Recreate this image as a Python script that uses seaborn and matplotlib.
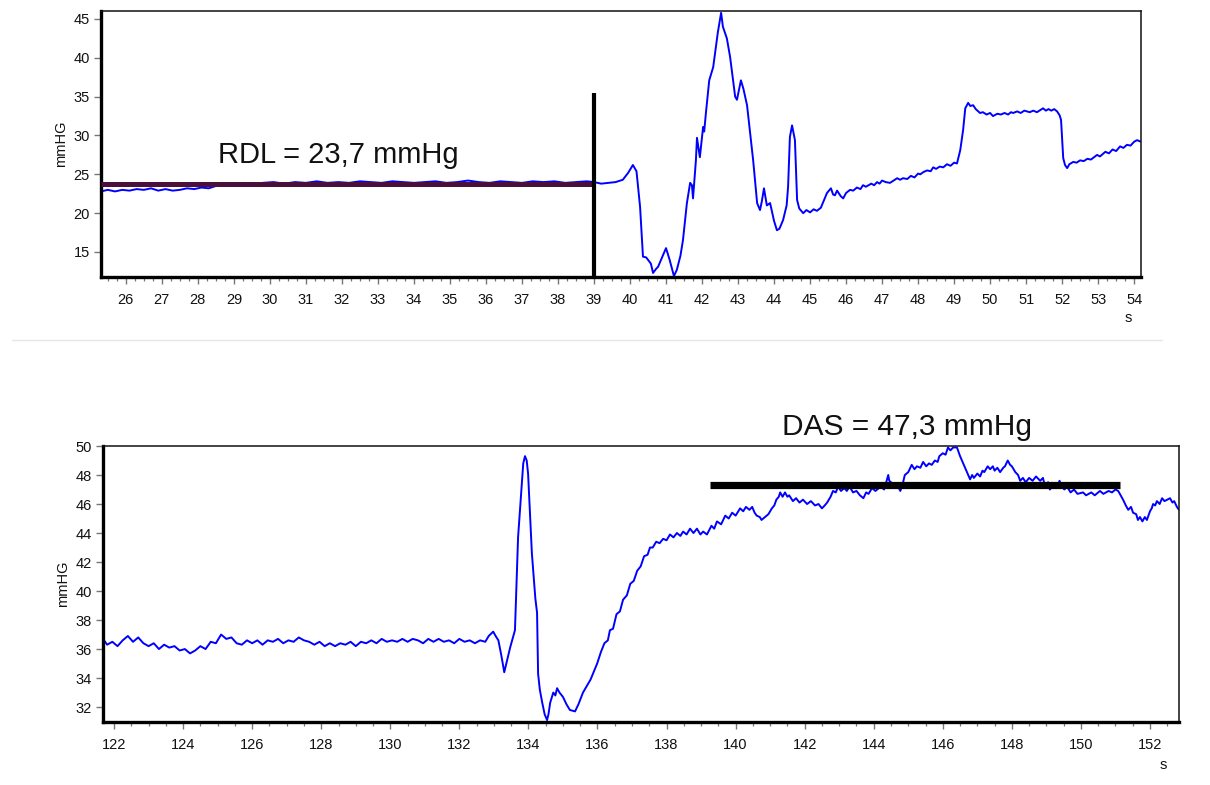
import numpy as np
import pandas as pd
import matplotlib
matplotlib.use("Agg")
import matplotlib.pyplot as plt
from matplotlib.lines import Line2D
from matplotlib.ticker import MultipleLocator
import seaborn as sns

# ---- pressure trace, first recording (time in s, pressure in mmHg) ----
rdl_time = [25.31, 25.5, 25.7, 25.9, 26.1, 26.3, 26.5, 26.7, 26.9, 27.1, 27.3, 27.5,
            27.7, 27.9, 28.1, 28.3, 28.5, 28.7, 28.9, 29.1, 29.3, 29.5, 29.8, 30.1,
            30.4, 30.7, 31.0, 31.3, 31.6, 31.9, 32.2, 32.5, 32.8, 33.1, 33.4, 33.7,
            34.0, 34.3, 34.6, 34.9, 35.2, 35.5, 35.8, 36.1, 36.4, 36.7, 37.0, 37.3,
            37.6, 37.9, 38.2, 38.5, 38.8, 39.0, 39.2, 39.4, 39.6, 39.8, 39.95, 40.08,
            40.18, 40.28, 40.36, 40.45, 40.5, 40.58, 40.64, 40.72, 40.78, 40.9, 41.0,
            41.1, 41.22, 41.3, 41.4, 41.47, 41.58, 41.67, 41.72, 41.75, 41.83, 41.86,
            41.94, 42.03, 42.06, 42.11, 42.2, 42.31, 42.44, 42.53, 42.58, 42.69, 42.78,
            42.85, 42.92, 42.97, 43.08, 43.15, 43.25, 43.42, 43.53, 43.61, 43.66, 43.72,
            43.8, 43.89, 44.0, 44.08, 44.15, 44.25, 44.35, 44.39, 44.44, 44.5, 44.58,
            44.64, 44.7, 44.81, 44.9, 45.0, 45.1, 45.19, 45.3, 45.47, 45.58, 45.64,
            45.69, 45.75, 45.85, 45.92, 46.0, 46.11, 46.2, 46.3, 46.4, 46.47, 46.55,
            46.7, 46.78, 46.86, 46.93, 47.0, 47.1, 47.22, 47.32, 47.42, 47.5, 47.58,
            47.7, 47.8, 47.9, 48.0, 48.06, 48.15, 48.25, 48.35, 48.42, 48.5, 48.6,
            48.7, 48.8, 48.9, 49.0, 49.08, 49.17, 49.25, 49.31, 49.39, 49.45, 49.53,
            49.6, 49.72, 49.8, 49.9, 50.0, 50.08, 50.2, 50.3, 50.4, 50.5, 50.58,
            50.64, 50.75, 50.85, 50.95, 51.1, 51.2, 51.3, 51.4, 51.47, 51.55, 51.62,
            51.7, 51.78, 51.86, 51.93, 51.97, 52.03, 52.08, 52.14, 52.2, 52.31, 52.4,
            52.5, 52.6, 52.7, 52.8, 52.97, 53.05, 53.2, 53.3, 53.4, 53.5, 53.61,
            53.7, 53.8, 53.9, 54.0, 54.08, 54.19]
rdl_pressure = [22.8, 23.0, 22.8, 23.0, 22.9, 23.1, 23.0, 23.2, 22.9, 23.1, 22.9, 23.0,
                23.2, 23.1, 23.3, 23.2, 23.5, 23.6, 23.7, 23.6, 23.9, 23.8, 23.9, 24.0,
                23.8, 24.0, 23.9, 24.1, 23.9, 24.0, 23.9, 24.1, 24.0, 23.9, 24.1, 24.0,
                23.9, 24.0, 24.1, 23.9, 24.0, 24.2, 24.0, 23.9, 24.1, 24.0, 23.9, 24.1,
                24.0, 24.1, 23.9, 24.0, 24.1, 24.0, 23.8, 23.9, 24.0, 24.3, 25.2, 26.2,
                25.4, 20.8, 14.4, 14.3, 14.0, 13.5, 12.3, 12.8, 13.1, 14.4, 15.5,
                14.0, 11.9, 12.7, 14.5, 16.5, 21.3, 23.9, 23.6, 21.9, 26.8, 29.7,
                27.2, 31.1, 30.5, 33.0, 37.1, 38.8, 43.3, 45.8, 44.0, 42.5, 40.1,
                37.5, 35.0, 34.6, 37.1, 36.0, 33.9, 26.8, 21.3, 20.4, 21.5, 23.2,
                21.0, 21.3, 19.0, 17.8, 18.0, 19.1, 21.0, 23.4, 29.8, 31.3, 29.4,
                21.7, 20.6, 20.0, 20.4, 20.1, 20.5, 20.3, 20.7, 22.6, 23.2, 22.4,
                22.3, 22.9, 22.2, 21.9, 22.6, 23.0, 22.9, 23.3, 23.1, 23.6, 23.4,
                23.8, 23.6, 24.0, 23.8, 24.2, 24.0, 23.9, 24.2, 24.5, 24.3, 24.5,
                24.4, 24.8, 24.6, 25.1, 25.0, 25.3, 25.5, 25.4, 25.9, 25.7, 26.0,
                25.9, 26.3, 26.1, 26.5, 26.4, 28.1, 30.7, 33.5, 34.2, 33.8, 33.9,
                33.4, 32.9, 33.0, 32.7, 32.9, 32.5, 32.8, 32.7, 32.9, 32.7, 33.0,
                32.9, 33.1, 32.9, 33.2, 33.0, 33.2, 33.0, 33.3, 33.5, 33.2, 33.4,
                33.2, 33.4, 33.1, 32.6, 32.0, 27.1, 26.2, 25.8, 26.3, 26.6, 26.5,
                26.8, 26.7, 27.0, 26.9, 27.5, 27.3, 27.9, 27.7, 28.2, 28.0, 28.6,
                28.4, 28.8, 28.7, 29.2, 29.4, 29.2]

# ---- pressure trace, second recording ----
das_time = [121.68, 121.8, 121.95, 122.1, 122.25, 122.4, 122.55, 122.7, 122.85, 123.0,
            123.15, 123.3, 123.45, 123.6, 123.75, 123.9, 124.05, 124.2, 124.35, 124.5,
            124.65, 124.8, 124.95, 125.1, 125.25, 125.4, 125.55, 125.7, 125.85, 126.0,
            126.15, 126.3, 126.45, 126.6, 126.75, 126.9, 127.05, 127.2, 127.35, 127.5,
            127.65, 127.8, 127.95, 128.1, 128.25, 128.4, 128.55, 128.7, 128.85, 129.0,
            129.15, 129.3, 129.45, 129.6, 129.75, 129.9, 130.05, 130.2, 130.35, 130.5,
            130.65, 130.8, 130.95, 131.1, 131.25, 131.4, 131.55, 131.7, 131.85, 132.0,
            132.15, 132.3, 132.45, 132.6, 132.75, 132.85, 132.98, 133.05, 133.13, 133.22,
            133.3, 133.38, 133.47, 133.61, 133.7, 133.79, 133.85, 133.9, 133.95, 133.99,
            134.1, 134.2, 134.25, 134.28, 134.33, 134.4, 134.47, 134.54, 134.58, 134.63,
            134.72, 134.78, 134.83, 134.9, 135.0, 135.1, 135.2, 135.35, 135.45, 135.58,
            135.8, 135.99, 136.1, 136.2, 136.3, 136.36, 136.45, 136.55, 136.65, 136.74,
            136.85, 136.95, 137.05, 137.15, 137.25, 137.35, 137.45, 137.52, 137.6, 137.7,
            137.8, 137.9, 138.0, 138.1, 138.2, 138.3, 138.4, 138.48, 138.58, 138.68,
            138.78, 138.88, 138.98, 139.06, 139.17, 139.3, 139.38, 139.46, 139.58, 139.7,
            139.8, 139.9, 140.0, 140.13, 140.22, 140.3, 140.4, 140.48, 140.55, 140.61,
            140.7, 140.75, 140.85, 140.95, 141.05, 141.12, 141.18, 141.25, 141.29, 141.36,
            141.43, 141.5, 141.55, 141.66, 141.75, 141.85, 141.95, 142.07, 142.18, 142.3,
            142.4, 142.5, 142.58, 142.65, 142.75, 142.82, 142.9, 142.97, 143.05, 143.15,
            143.22, 143.3, 143.4, 143.5, 143.6, 143.7, 143.78, 143.85, 143.95, 144.05,
            144.2, 144.3, 144.35, 144.42, 144.45, 144.55, 144.62, 144.68, 144.77, 144.85,
            144.9, 145.0, 145.1, 145.18, 145.25, 145.35, 145.43, 145.52, 145.6, 145.68,
            145.77, 145.85, 145.9, 146.0, 146.08, 146.15, 146.22, 146.3, 146.41, 146.5,
            146.59, 146.7, 146.79, 146.85, 146.9, 147.0, 147.08, 147.15, 147.2, 147.3,
            147.37, 147.45, 147.5, 147.58, 147.66, 147.75, 147.8, 147.88, 147.95, 148.0,
            148.1, 148.18, 148.24, 148.32, 148.4, 148.5, 148.6, 148.7, 148.82, 148.9,
            148.95, 149.05, 149.1, 149.2, 149.3, 149.38, 149.45, 149.52, 149.6, 149.7,
            149.8, 149.9, 150.06, 150.15, 150.3, 150.4, 150.55, 150.65, 150.8, 150.9,
            151.0, 151.08, 151.15, 151.22, 151.3, 151.37, 151.45, 151.51, 151.6, 151.65,
            151.71, 151.78, 151.85, 151.91, 152.0, 152.05, 152.09, 152.15, 152.2, 152.28,
            152.35, 152.42, 152.5, 152.58, 152.65, 152.7, 152.78, 152.84]
das_pressure = [36.7, 36.3, 36.5, 36.2, 36.6, 36.9, 36.5, 36.8, 36.4, 36.2,
                36.4, 36.0, 36.3, 36.1, 36.2, 35.9, 36.0, 35.7, 35.9, 36.2,
                36.0, 36.5, 36.4, 37.0, 36.7, 36.8, 36.4, 36.3, 36.6, 36.4,
                36.6, 36.3, 36.6, 36.5, 36.7, 36.4, 36.6, 36.5, 36.8, 36.6,
                36.5, 36.3, 36.5, 36.2, 36.4, 36.2, 36.4, 36.3, 36.5, 36.2,
                36.5, 36.4, 36.6, 36.4, 36.7, 36.5, 36.6, 36.5, 36.7, 36.5,
                36.7, 36.6, 36.4, 36.7, 36.5, 36.7, 36.5, 36.6, 36.4, 36.7,
                36.5, 36.6, 36.4, 36.6, 36.5, 36.9, 37.2, 36.9, 36.6, 35.5,
                34.4, 35.2, 36.1, 37.3, 43.7, 46.8, 48.8, 49.3, 49.0, 48.1,
                42.6, 39.5, 38.5, 34.3, 33.2, 32.3, 31.5, 31.1, 31.5, 32.3,
                33.0, 32.8, 33.3, 33.0, 32.7, 32.2, 31.8, 31.7, 32.2, 33.0,
                33.9, 35.0, 35.8, 36.4, 36.6, 37.3, 37.4, 38.4, 38.6, 39.4,
                39.7, 40.5, 40.7, 41.4, 41.7, 42.4, 42.5, 43.0, 43.0, 43.4,
                43.3, 43.6, 43.5, 43.9, 43.7, 44.0, 43.8, 44.1, 43.9, 44.3,
                44.0, 44.3, 43.9, 44.1, 43.9, 44.5, 44.3, 44.8, 44.6, 45.2,
                45.0, 45.4, 45.2, 45.7, 45.5, 45.8, 45.6, 45.8, 45.4, 45.2,
                45.1, 44.9, 45.1, 45.3, 45.7, 45.9, 46.3, 46.5, 46.8, 46.5,
                46.8, 46.5, 46.6, 46.2, 46.4, 46.1, 46.3, 46.0, 46.2, 45.9,
                46.0, 45.7, 45.9, 46.1, 46.5, 46.9, 46.8, 47.2, 46.9, 47.1,
                46.9, 47.2, 46.8, 46.9, 46.6, 46.4, 46.8, 46.7, 47.1, 46.9,
                47.2, 47.0, 47.4, 48.0, 47.6, 47.4, 47.1, 47.3, 46.9, 47.5,
                48.0, 48.2, 48.7, 48.4, 48.6, 48.5, 48.9, 48.6, 48.8, 48.7,
                49.0, 48.9, 49.3, 49.5, 49.4, 49.9, 49.7, 49.9, 49.9, 49.3,
                48.8, 48.2, 47.7, 48.0, 47.8, 48.1, 47.9, 48.3, 48.2, 48.6,
                48.4, 48.6, 48.3, 48.5, 48.2, 48.5, 48.6, 49.0, 48.7, 48.6,
                48.2, 48.0, 47.6, 47.8, 47.5, 47.8, 47.6, 47.9, 47.6, 47.8,
                47.3, 47.5, 47.0, 47.3, 47.1, 47.6, 47.2, 47.0, 47.2, 46.8,
                47.0, 46.7, 46.8, 46.6, 46.8, 46.6, 46.9, 46.7, 46.9, 46.8,
                47.0, 46.9, 46.6, 46.3, 45.9, 45.6, 45.8, 45.4, 45.3, 44.9,
                45.1, 44.8, 45.1, 44.9, 45.5, 45.7, 46.0, 45.9, 46.2, 46.0,
                46.4, 46.2, 46.3, 46.4, 46.1, 46.2, 45.8, 45.6]

# ---- reference levels and labels ----
rdl_value = 23.7
rdl_span = (25.31, 39.0)
rdl_marker_time = 39.0
rdl_marker_top = 35.5
rdl_label = "RDL = 23,7 mmHg"

das_value = 47.3
das_span = (139.26, 151.14)
das_label = "DAS = 47,3 mmHg"

top_yticks = [15, 20, 25, 30, 35, 40, 45]
top_xticks = list(range(26, 55))
bottom_yticks = list(range(32, 51, 2))
bottom_xticks = list(range(122, 153, 2))

sns.set_style("ticks")
plt.rcParams["font.family"] = ["Liberation Sans", "DejaVu Sans"]

fig = plt.figure(figsize=(12.1, 7.85), dpi=100)
ax_top = fig.add_axes([101 / 1210, 1 - 277 / 785, 1040 / 1210, 266 / 785])
ax_bot = fig.add_axes([103 / 1210, 1 - 722 / 785, 1076 / 1210, 276 / 785])

trace_color = "#0000ff"
df_top = pd.DataFrame({"t": rdl_time, "p": rdl_pressure})
df_bot = pd.DataFrame({"t": das_time, "p": das_pressure})
sns.lineplot(data=df_top, x="t", y="p", ax=ax_top, color=trace_color, lw=1.4,
             estimator=None, sort=False)
sns.lineplot(data=df_bot, x="t", y="p", ax=ax_bot, color=trace_color, lw=1.4,
             estimator=None, sort=False)


def style_axes(ax, xlim, ylim, xticks, yticks, minor_x):
    ax.set_xlim(*xlim)
    ax.set_ylim(*ylim)
    ax.set_xticks(xticks)
    ax.set_yticks(yticks)
    ax.xaxis.set_minor_locator(MultipleLocator(minor_x))
    for side in ("top", "right"):
        ax.spines[side].set_visible(True)
        ax.spines[side].set_linewidth(1.1)
        ax.spines[side].set_color("#111111")
    for side in ("bottom", "left"):
        ax.spines[side].set_linewidth(2.4)
        ax.spines[side].set_color("#000000")
    ax.tick_params(axis="both", which="major", direction="out", length=5,
                   width=1.0, color="#777777", labelsize=10.5,
                   labelcolor="#111111", pad=3)
    ax.tick_params(axis="x", which="major", pad=6.5)
    ax.tick_params(axis="x", which="minor", direction="out", length=3,
                   width=0.9, color="#777777")
    ax.set_xlabel("")
    ax.set_ylabel("mmHG", fontsize=10.5, color="#111111", labelpad=4)


style_axes(ax_top, (25.31, 54.19), (11.78, 46.03), top_xticks, top_yticks, 0.25)
style_axes(ax_bot, (121.68, 152.84), (30.97, 50.0), bottom_xticks, bottom_yticks, 0.5)

# unit labels under the time axes
ax_top.text(53.83, 11.78 - 34 / 7.77, "s", ha="center", va="top",
            fontsize=10.5, color="#111111", clip_on=False)
ax_bot.text(152.38, 30.97 - 36 / 14.5, "s", ha="center", va="top",
            fontsize=10.5, color="#111111", clip_on=False)

# resting level and end marker
ax_top.hlines(rdl_value, rdl_span[0], rdl_span[1], color="#4a0f3a", lw=3.6, zorder=3)
ax_top.vlines(rdl_marker_time, 11.78, rdl_marker_top, color="black", lw=3.0, zorder=4,
              clip_on=False)
ax_top.text(28.56, 26.45, rdl_label, fontsize=21, ha="left", va="baseline",
            color="#111111")

# sustained level
ax_bot.hlines(das_value, das_span[0], das_span[1], color="black", lw=5.2, zorder=3)
ax_bot.text(141.35, 50.76, das_label, fontsize=21.5, ha="left", va="baseline",
            color="#111111", clip_on=False)

# thin divider between the two recordings
fig.add_artist(Line2D([12 / 1210, 1162 / 1210], [1 - 340 / 785, 1 - 340 / 785],
                      color="#e6e6e6", lw=1.0, transform=fig.transFigure))

fig.savefig("out.png", dpi=100, facecolor="white")
